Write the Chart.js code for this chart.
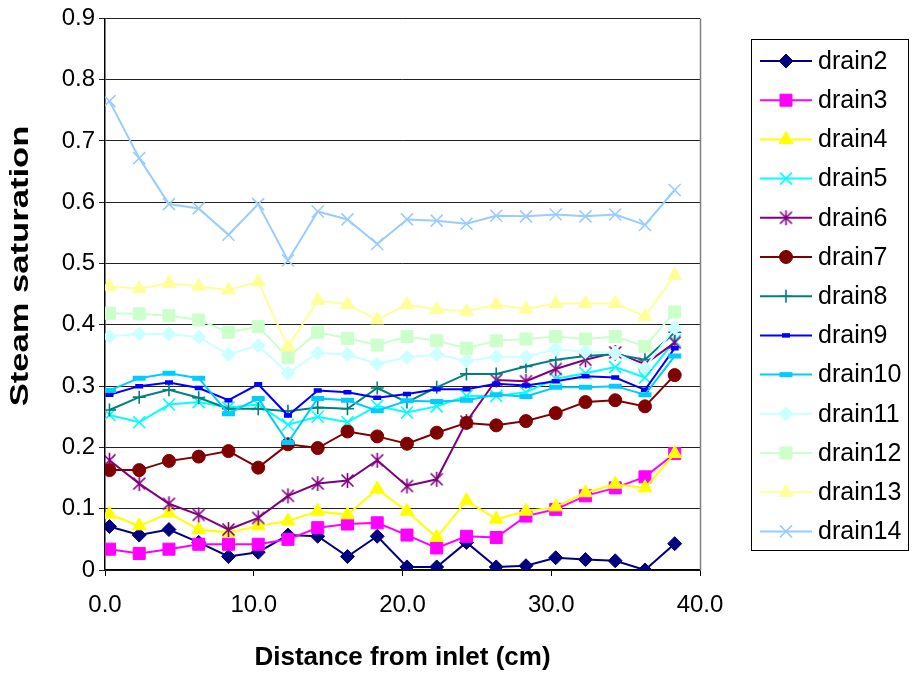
<!DOCTYPE html>
<html>
<head>
<meta charset="utf-8">
<script src="https://cdn.jsdelivr.net/npm/chart.js@4/dist/chart.umd.min.js"></script>
<style>
  html, body { margin: 0; padding: 0; background: #fff; }
  #wrap { width: 914px; height: 677px; }
</style>
</head>
<body>
<div id="wrap"><canvas id="c" width="914" height="677"></canvas></div>
<script>
// ---- data ----
const distance = [0.3, 2.3, 4.3, 6.3, 8.3, 10.3, 12.3, 14.3, 16.3, 18.3, 20.3, 22.3, 24.3, 26.3, 28.3, 30.3, 32.3, 34.3, 36.3, 38.3];
const xTicks = [0, 10, 20, 30, 40];
const seriesNames = ['drain2','drain3','drain4','drain5','drain6','drain7','drain8','drain9','drain10','drain11','drain12','drain13','drain14'];
const xTitle = 'Distance from inlet (cm)';
const yTitle = 'Steam saturation';

const drain2  = [0.071, 0.057, 0.066, 0.045, 0.022, 0.029, 0.057, 0.055, 0.022, 0.055, 0.005, 0.005, 0.045, 0.005, 0.007, 0.020, 0.017, 0.015, 0.000, 0.043];
const drain3  = [0.034, 0.027, 0.034, 0.042, 0.042, 0.042, 0.050, 0.069, 0.075, 0.077, 0.057, 0.036, 0.055, 0.053, 0.088, 0.099, 0.121, 0.134, 0.152, 0.190];
const drain4  = [0.091, 0.072, 0.093, 0.066, 0.061, 0.072, 0.080, 0.096, 0.090, 0.132, 0.096, 0.053, 0.113, 0.083, 0.096, 0.103, 0.126, 0.140, 0.134, 0.190];
const drain5  = [0.253, 0.241, 0.270, 0.274, 0.265, 0.270, 0.237, 0.250, 0.241, 0.268, 0.257, 0.267, 0.284, 0.284, 0.290, 0.312, 0.321, 0.331, 0.314, 0.374];
const drain6  = [0.179, 0.141, 0.108, 0.090, 0.066, 0.085, 0.121, 0.141, 0.146, 0.179, 0.137, 0.148, 0.242, 0.310, 0.308, 0.328, 0.343, 0.355, 0.336, 0.371];
const drain7  = [0.163, 0.163, 0.178, 0.185, 0.194, 0.167, 0.205, 0.199, 0.226, 0.218, 0.206, 0.224, 0.240, 0.236, 0.243, 0.256, 0.274, 0.277, 0.267, 0.318];
const drain8  = [0.261, 0.282, 0.294, 0.281, 0.263, 0.263, 0.259, 0.265, 0.263, 0.297, 0.274, 0.298, 0.320, 0.320, 0.332, 0.343, 0.349, 0.352, 0.343, 0.388];
const drain9  = [0.286, 0.300, 0.306, 0.297, 0.277, 0.303, 0.252, 0.293, 0.290, 0.281, 0.287, 0.295, 0.295, 0.304, 0.301, 0.308, 0.316, 0.314, 0.294, 0.362];
const drain10 = [0.293, 0.313, 0.321, 0.313, 0.255, 0.280, 0.208, 0.280, 0.277, 0.260, 0.276, 0.275, 0.277, 0.286, 0.283, 0.298, 0.298, 0.300, 0.286, 0.349];
const drain11 = [0.381, 0.385, 0.385, 0.380, 0.352, 0.366, 0.321, 0.354, 0.352, 0.336, 0.347, 0.352, 0.341, 0.348, 0.348, 0.360, 0.356, 0.354, 0.330, 0.395];
const drain12 = [0.419, 0.418, 0.415, 0.408, 0.388, 0.397, 0.347, 0.388, 0.378, 0.367, 0.381, 0.374, 0.362, 0.374, 0.377, 0.381, 0.377, 0.381, 0.365, 0.421];
const drain13 = [0.463, 0.459, 0.468, 0.463, 0.457, 0.470, 0.364, 0.440, 0.433, 0.408, 0.433, 0.425, 0.422, 0.433, 0.426, 0.435, 0.435, 0.435, 0.414, 0.481];
const drain14 = [0.765, 0.672, 0.597, 0.590, 0.547, 0.597, 0.505, 0.585, 0.572, 0.532, 0.572, 0.570, 0.565, 0.578, 0.577, 0.580, 0.577, 0.580, 0.563, 0.620];

const seriesValues = [drain2, drain3, drain4, drain5, drain6, drain7, drain8, drain9, drain10, drain11, drain12, drain13, drain14];

// ---- styles ----
const colors = ['#000080','#FF00FF','#FFFF00','#00FFFF','#800080','#800000','#008080','#0000FF','#00CCFF','#CCFFFF','#CCFFCC','#FFFF99','#99CCFF'];

function asterisk(color) {
  const c = document.createElement('canvas');
  c.width = 17; c.height = 17;
  const g = c.getContext('2d');
  g.strokeStyle = color; g.lineWidth = 1.6;
  g.beginPath();
  g.moveTo(2.5, 2.5); g.lineTo(14.5, 14.5);
  g.moveTo(14.5, 2.5); g.lineTo(2.5, 14.5);
  g.moveTo(8.5, 1); g.lineTo(8.5, 16);
  g.stroke();
  return c;
}

const markers = [
  {style: 'rectRot', r: 7, bw: 1},
  {style: 'rect', r: 8.5, bw: 1},
  {style: 'triangle', r: 8, bw: 1},
  {style: 'crossRot', r: 8.5, bw: 1.6},
  {style: asterisk('#800080'), r: 8, bw: 1},
  {style: 'circle', r: 6.5, bw: 1},
  {style: 'cross', r: 6.5, bw: 1.6},
  {style: 'line', r: 4, bw: 4.5},
  {style: 'line', r: 6.5, bw: 5},
  {style: 'rectRot', r: 7, bw: 1},
  {style: 'rect', r: 8.5, bw: 1},
  {style: 'triangle', r: 8, bw: 1},
  {style: 'crossRot', r: 8.5, bw: 1.6}
];

const FONT = '"Liberation Sans", Arial, Helvetica, sans-serif';

const datasets = seriesNames.map((name, i) => ({
  label: name,
  data: distance.map((d, k) => ({x: d, y: seriesValues[i][k]})),
  borderColor: colors[i],
  backgroundColor: colors[i],
  borderWidth: 2,
  pointStyle: markers[i].style,
  pointRadius: markers[i].r,
  pointHoverRadius: markers[i].r,
  pointBorderWidth: markers[i].bw,
  pointBackgroundColor: colors[i],
  pointBorderColor: colors[i],
  tension: 0,
  order: -i
}));

const frame = {
  id: 'frame',
  beforeDatasetsDraw(chart) {
    const a = chart.chartArea, ctx = chart.ctx;
    ctx.save();
    ctx.strokeStyle = '#808080';
    ctx.lineWidth = 1.5;
    ctx.beginPath();
    ctx.moveTo(a.right + 0.5, a.top);
    ctx.lineTo(a.right + 0.5, a.bottom);
    ctx.stroke();
    ctx.restore();
  }
};

// y-axis title (stretched along its length like the reference rendering)
const yTitlePlugin = {
  id: 'yTitlePlugin',
  afterDraw(chart) {
    const ctx = chart.ctx;
    ctx.save();
    ctx.translate(21, 266);
    ctx.rotate(-Math.PI / 2);
    ctx.scale(1.33, 1);
    ctx.fillStyle = '#000';
    ctx.font = 'bold 26px ' + FONT;
    ctx.textAlign = 'center';
    ctx.textBaseline = 'middle';
    ctx.fillText(yTitle, 0, 0);
    ctx.restore();
  }
};

const legendBox = {
  id: 'legendBox',
  afterDraw(chart) {
    const ctx = chart.ctx;
    ctx.save();
    ctx.strokeStyle = '#000';
    ctx.lineWidth = 1;
    ctx.strokeRect(751.5, 39.5, 157, 511);
    chart.data.datasets.forEach((ds, i) => {
      const y = 61 + i * 39.2;
      ctx.strokeStyle = ds.borderColor;
      ctx.lineWidth = ds.borderWidth;
      ctx.beginPath();
      ctx.moveTo(760, y); ctx.lineTo(812, y);
      ctx.stroke();
      ctx.fillStyle = ds.pointBackgroundColor;
      ctx.strokeStyle = ds.pointBorderColor;
      ctx.lineWidth = ds.pointBorderWidth;
      Chart.helpers.drawPoint(ctx, {pointStyle: ds.pointStyle, radius: ds.pointRadius, borderWidth: ds.pointBorderWidth, rotation: 0}, 786, y);
      ctx.fillStyle = '#000';
      ctx.font = '25px ' + FONT;
      ctx.textBaseline = 'middle';
      ctx.textAlign = 'left';
      ctx.fillText(ds.label, 818, y + 1);
    });
    ctx.restore();
  }
};

new Chart(document.getElementById('c'), {
  type: 'line',
  data: { datasets },
  options: {
    responsive: false,
    animation: false,
    devicePixelRatio: 1,
    layout: { padding: { left: 0, right: 214, top: 17, bottom: 0 } },
    plugins: { legend: { display: false }, tooltip: { enabled: false } },
    scales: {
      x: {
        type: 'linear',
        min: 0, max: 40,
        afterBuildTicks(scale) { scale.ticks = xTicks.map(v => ({value: v})); },
        afterFit(scale) { scale.height = 107; },
        grid: { drawOnChartArea: false, drawTicks: true, tickLength: 6, color: '#000', lineWidth: 1 },
        border: { color: '#000', width: 1.5 },
        ticks: { color: '#000', font: { size: 24, family: FONT }, padding: 15, maxRotation: 0, callback: v => v.toFixed(1) },
        title: { display: true, text: xTitle, color: '#000', font: { size: 26, weight: 'bold', family: FONT }, padding: { top: 0, bottom: 4 } }
      },
      y: {
        type: 'linear',
        min: 0, max: 0.9,
        ticks: { stepSize: 0.1, color: '#000', font: { size: 24, family: FONT }, padding: 4, callback: v => (Math.abs(v) < 1e-9 ? '0' : v.toFixed(1)) },
        afterFit(scale) { scale.width = 105; },
        grid: { color: '#222', lineWidth: 1, tickLength: 6, drawTicks: true },
        border: { color: '#000', width: 1.5 },
        title: { display: false }
      }
    }
  },
  plugins: [frame, yTitlePlugin, legendBox]
});
</script>
</body>
</html>
